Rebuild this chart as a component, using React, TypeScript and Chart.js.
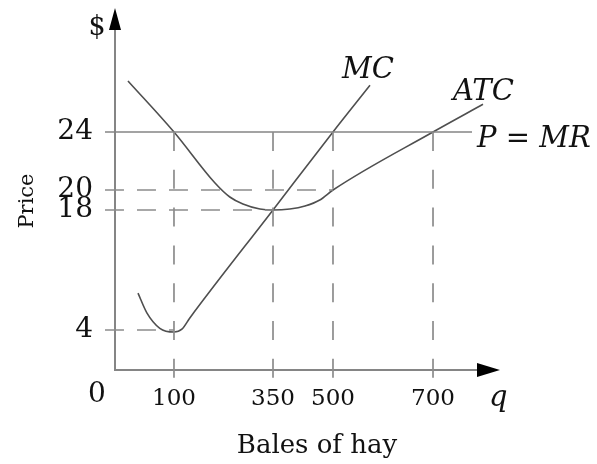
import React, { useEffect, useRef } from 'react';
import { Chart, LinearScale, registerables } from 'chart.js';

// ---------------- data ----------------
const quantityTicks = [100, 350, 500, 700];
const priceTicks = [4, 18, 20, 24];
const marketPrice = 24; // P = MR
const mrQuantity = [-17, 778];

const atcQuantity = [22, 100, 203, 241, 274, 317, 350, 392, 430, 467, 500, 700, 800];
const atcCost = [27.5, 24, 20.5, 19.3, 18.6, 18.1, 18, 18.1, 18.4, 19.0, 20, 24, 25.9];

const mcQuantity = [39, 54, 76, 100, 120, 140, 350, 500, 574];
const mcCost = [8.3, 6.0, 4.2, 3.8, 4.1, 5.4, 18, 24, 27.2];

const guidePrice = [20, 18, 4];
const guideQuantity = [500, 350, 100];

// --------------- scale layout (diagram is not drawn to scale) ---------------
const AXIS_KNOTS: Record<string, number[][]> = {
  x: [[0, 0], [100, 0.1532], [350, 0.4104], [500, 0.5662], [700, 0.826], [834, 1]],
  y: [[0, 0], [4, 0.1105], [18, 0.442], [20, 0.4972], [24, 0.6575], [32.5, 1]],
};

function toDecimal(knots: number[][], v: number) {
  let i = 0;
  if (v <= knots[0][0]) i = 0;
  else if (v >= knots[knots.length - 1][0]) i = knots.length - 2;
  else {
    while (i < knots.length - 2 && v > knots[i + 1][0]) i++;
  }
  const [v0, d0] = knots[i];
  const [v1, d1] = knots[i + 1];
  return d0 + ((v - v0) / (v1 - v0)) * (d1 - d0);
}

function fromDecimal(knots: number[][], d: number) {
  let i = 0;
  if (d <= knots[0][1]) i = 0;
  else if (d >= knots[knots.length - 1][1]) i = knots.length - 2;
  else {
    while (i < knots.length - 2 && d > knots[i + 1][1]) i++;
  }
  const [v0, d0] = knots[i];
  const [v1, d1] = knots[i + 1];
  return v0 + ((d - d0) / (d1 - d0)) * (v1 - v0);
}

class PiecewiseScale extends LinearScale {
  static id = 'piecewise';
  getPixelForValue(value: any) {
    if (value === null || value === undefined) return NaN;
    return this.getPixelForDecimal(toDecimal(AXIS_KNOTS[(this as any).axis], value));
  }
  getValueForPixel(pixel: number) {
    return fromDecimal(AXIS_KNOTS[(this as any).axis], this.getDecimalForPixel(pixel));
  }
}

Chart.register(...registerables);
Chart.register(PiecewiseScale as any);

const FONT = '"DejaVu Serif"';
const AXIS_COLOR = '#858585';
const CURVE_COLOR = '#4f4f4f';
const GUIDE_COLOR = '#8c8c8c';
const TEXT_COLOR = '#111';

const diagramPlugin = {
  id: 'diagram',
  beforeDatasetsDraw(chart: any) {
    const { ctx, chartArea } = chart;
    const { left, right, top, bottom } = chartArea;
    ctx.save();
    ctx.strokeStyle = AXIS_COLOR;
    ctx.lineWidth = 2;
    ctx.beginPath();
    ctx.moveTo(left, top + 22);
    ctx.lineTo(left, bottom);
    ctx.lineTo(right - 23, bottom);
    ctx.stroke();
    ctx.restore();
  },
  afterDraw(chart: any) {
    const { ctx, chartArea } = chart;
    const { left, right, top, bottom } = chartArea;
    ctx.save();
    ctx.fillStyle = '#000';
    // y arrow
    ctx.beginPath();
    ctx.moveTo(left, top);
    ctx.lineTo(left - 6, top + 22);
    ctx.lineTo(left + 6, top + 22);
    ctx.closePath();
    ctx.fill();
    // x arrow
    ctx.beginPath();
    ctx.moveTo(right, bottom);
    ctx.lineTo(right - 23, bottom - 7);
    ctx.lineTo(right - 23, bottom + 7);
    ctx.closePath();
    ctx.fill();

    ctx.fillStyle = TEXT_COLOR;
    ctx.textBaseline = 'alphabetic';

    ctx.font = `27px ${FONT}`;
    ctx.textAlign = 'center';
    ctx.fillText('$', 97, 35);

    ctx.font = `28px ${FONT}`;
    ctx.fillText('0', 97, 402);

    ctx.font = `26px ${FONT}`;
    ctx.fillText('Bales of hay', 317, 453);

    ctx.textAlign = 'left';
    ctx.font = `italic 29px ${FONT}`;
    ctx.fillText('q', 489, 406);
    ctx.fillText('MC', 342, 78);
    ctx.fillText('ATC', 453, 100);
    ctx.fillText('P = MR', 477, 147);

    ctx.save();
    ctx.translate(33, 201);
    ctx.rotate(-Math.PI / 2);
    ctx.textAlign = 'center';
    ctx.font = `21px ${FONT}`;
    ctx.fillText('Price', 0, 0);
    ctx.restore();

    ctx.restore();
  },
};

export default function App() {
  const ref = useRef<HTMLCanvasElement>(null);

  useEffect(() => {
    if (!ref.current) return;
    const pts = (xs: number[], ys: number[]) => xs.map((x, i) => ({ x, y: ys[i] }));
    const guideBase = {
      borderColor: GUIDE_COLOR,
      borderWidth: 1.7,
      pointRadius: 0,
      fill: false,
      clip: false as any,
      tension: 0,
    };
    const datasets: any[] = [
      ...quantityTicks.map((q) => ({
        ...guideBase,
        borderDash: [19, 18.8],
        label: `q=${q}`,
        data: [{ x: q, y: marketPrice }, { x: q, y: -0.8 }],
      })),
      ...guidePrice.map((p, i) => ({
        ...guideBase,
        borderDash: [19, 13],
        label: `p=${p}`,
        data: [{ x: -17, y: p }, { x: guideQuantity[i], y: p }],
      })),
      {
        label: 'P = MR',
        data: mrQuantity.map((q) => ({ x: q, y: marketPrice })),
        borderColor: AXIS_COLOR,
        borderWidth: 1.7,
        pointRadius: 0,
        clip: false,
        tension: 0,
      },
      {
        label: 'ATC',
        data: pts(atcQuantity, atcCost),
        borderColor: CURVE_COLOR,
        borderWidth: 1.6,
        pointRadius: 0,
        cubicInterpolationMode: 'monotone',
        clip: false,
      },
      {
        label: 'MC',
        data: pts(mcQuantity, mcCost),
        borderColor: CURVE_COLOR,
        borderWidth: 1.6,
        pointRadius: 0,
        cubicInterpolationMode: 'monotone',
        clip: false,
      },
    ];

    Chart.defaults.font.family = FONT;
    const chart = new Chart(ref.current, {
      type: 'line',
      data: { datasets },
      options: {
        animation: false,
        responsive: false,
        events: [],
        layout: { padding: { top: 8, right: 97, left: 0, bottom: 0 } },
        plugins: { legend: { display: false }, tooltip: { enabled: false } },
        scales: {
          x: {
            type: 'piecewise' as any,
            min: 0,
            max: 834,
            bounds: 'data',
            grid: { display: false, drawTicks: false },
            border: { display: false },
            ticks: {
              autoSkip: false,
              maxRotation: 0,
              padding: 15,
              color: TEXT_COLOR,
              font: { size: 23, family: FONT },
              callback: (v: any) => String(v),
            },
            afterBuildTicks: (s: any) => {
              s.ticks = quantityTicks.map((v) => ({ value: v }));
            },
            afterFit: (s: any) => {
              s.height = 94;
              s.paddingLeft = 0;
              s.paddingRight = 0;
            },
          } as any,
          y: {
            type: 'piecewise' as any,
            min: 0,
            max: 32.5,
            bounds: 'data',
            grid: { display: false, drawTicks: false },
            border: { display: false },
            ticks: {
              autoSkip: false,
              padding: 22,
              color: TEXT_COLOR,
              font: { size: 28, family: FONT },
              callback: (v: any) => String(v),
            },
            afterBuildTicks: (s: any) => {
              s.ticks = priceTicks.map((v) => ({ value: v }));
            },
            afterFit: (s: any) => {
              s.width = 115;
              s.paddingTop = 0;
              s.paddingBottom = 0;
            },
          } as any,
        },
      },
      plugins: [diagramPlugin],
    });
    return () => chart.destroy();
  }, []);

  return (
    <div style={{ position: 'absolute', left: 0, top: 0, width: 597, height: 464, background: '#fff' }}>
      <canvas ref={ref} width={597} height={464} style={{ display: 'block' }} />
    </div>
  );
}
